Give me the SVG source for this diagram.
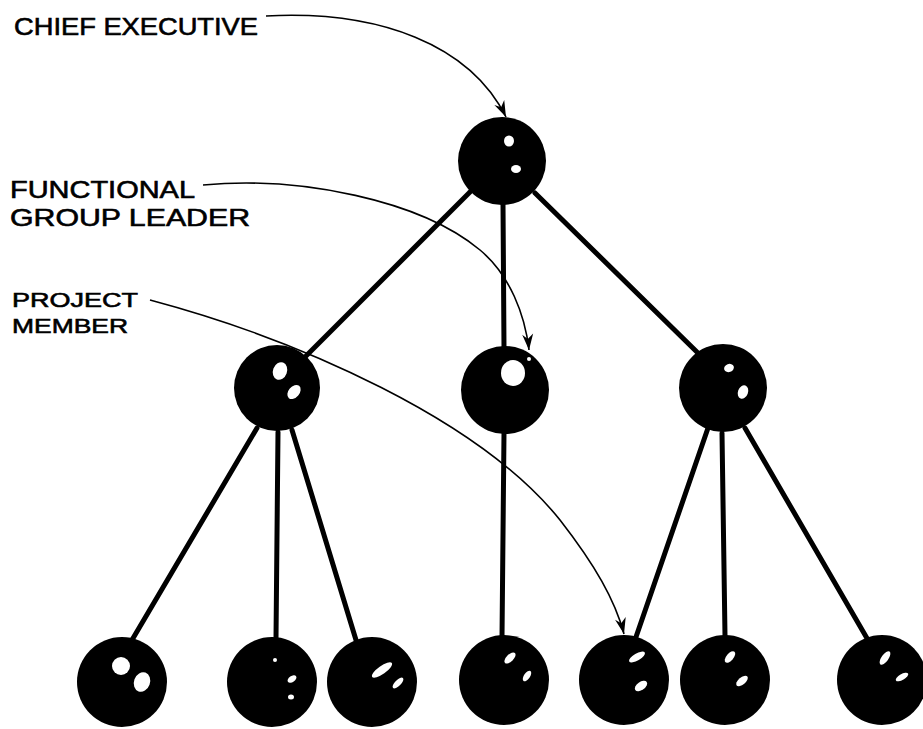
<svg xmlns="http://www.w3.org/2000/svg" width="923" height="729" viewBox="0 0 923 729">
  <style>
    .ball { fill: #000; }
    .hl { fill: #fff; }
    .link { stroke: #000; stroke-width: 5; stroke-linecap: round; fill: none; }
    .leader { stroke: #000; stroke-width: 1.6; fill: none; }
    .label { font-family: "Liberation Sans", "DejaVu Sans", sans-serif; font-size: 24px; fill: #000; stroke: #000; stroke-width: 0.6; }
    .label.small { font-size: 21px; }
  </style>
  <defs>
    <marker id="barb" viewBox="-18 -7 20 14" refX="0" refY="0" markerWidth="20" markerHeight="14" orient="auto" markerUnits="userSpaceOnUse">
      <path d="M0,0 L-16,-6 L-11,0 L-16,5 Z" fill="#000"/>
    </marker>
  </defs>

  <rect width="923" height="729" fill="#fff"/>

  <!-- structure lines between the levels -->
  <g id="connectors">
    <line class="link" x1="470" y1="192" x2="305" y2="357"/>
    <line class="link" x1="503" y1="204" x2="504" y2="347"/>
    <line class="link" x1="535" y1="193" x2="700" y2="355"/>
    <line class="link" x1="257" y1="428" x2="132" y2="640"/>
    <line class="link" x1="278" y1="432" x2="276" y2="638"/>
    <line class="link" x1="292" y1="430" x2="356" y2="640"/>
    <line class="link" x1="504" y1="433" x2="502" y2="637"/>
    <line class="link" x1="708" y1="428" x2="636" y2="637"/>
    <line class="link" x1="722" y1="433" x2="725" y2="636"/>
    <line class="link" x1="745" y1="428" x2="868" y2="640"/>
  </g>

  <!-- top: chief executive -->
  <g id="node-chief">
    <circle class="ball" cx="502" cy="161" r="44"/>
    <ellipse class="hl" cx="509" cy="141" rx="5" ry="5.5"/>
    <ellipse class="hl" cx="516" cy="169" rx="5" ry="4"/>
  </g>

  <!-- middle row: functional group leaders -->
  <g id="node-group-left">
    <circle class="ball" cx="277" cy="388" r="43"/>
    <ellipse class="hl" cx="280" cy="371" rx="7" ry="9" transform="rotate(20 280 371)"/>
    <ellipse class="hl" cx="294" cy="392" rx="5.5" ry="8" transform="rotate(40 294 392)"/>
  </g>
  <g id="node-group-centre">
    <circle class="ball" cx="505" cy="390" r="44"/>
    <ellipse class="hl" cx="513" cy="373" rx="12" ry="13"/>
    <circle class="hl" cx="529" cy="359" r="2"/>
  </g>
  <g id="node-group-right">
    <circle class="ball" cx="723" cy="388" r="44"/>
    <ellipse class="hl" cx="729" cy="368" rx="5" ry="4" transform="rotate(-20 729 368)"/>
    <ellipse class="hl" cx="743" cy="392" rx="5" ry="7" transform="rotate(20 743 392)"/>
  </g>

  <!-- bottom row: project members -->
  <g id="node-member-1">
    <circle class="ball" cx="122" cy="682" r="45"/>
    <ellipse class="hl" cx="121" cy="666" rx="9" ry="9"/>
    <ellipse class="hl" cx="142" cy="682" rx="8" ry="10" transform="rotate(20 142 682)"/>
  </g>
  <g id="node-member-2">
    <circle class="ball" cx="272" cy="682" r="45"/>
    <circle class="hl" cx="275" cy="660" r="2"/>
    <ellipse class="hl" cx="292" cy="679" rx="5" ry="3" transform="rotate(-35 292 679)"/>
    <ellipse class="hl" cx="291" cy="697" rx="3" ry="2.5"/>
  </g>
  <g id="node-member-3">
    <circle class="ball" cx="372" cy="682" r="45"/>
    <ellipse class="hl" cx="382" cy="670" rx="12" ry="4" transform="rotate(-35 382 670)"/>
    <ellipse class="hl" cx="398" cy="683" rx="7" ry="3" transform="rotate(-45 398 683)"/>
  </g>
  <g id="node-member-4">
    <circle class="ball" cx="504" cy="680" r="45"/>
    <ellipse class="hl" cx="510" cy="658" rx="7" ry="3.5" transform="rotate(-45 510 658)"/>
    <ellipse class="hl" cx="527" cy="676" rx="6" ry="3" transform="rotate(-55 527 676)"/>
  </g>
  <g id="node-member-5">
    <circle class="ball" cx="624" cy="680" r="45"/>
    <ellipse class="hl" cx="637" cy="657" rx="9" ry="3.5" transform="rotate(-30 637 657)"/>
    <ellipse class="hl" cx="641" cy="686" rx="7" ry="4" transform="rotate(-35 641 686)"/>
  </g>
  <g id="node-member-6">
    <circle class="ball" cx="725" cy="680" r="45"/>
    <ellipse class="hl" cx="730" cy="657" rx="7" ry="3.5" transform="rotate(-50 730 657)"/>
    <ellipse class="hl" cx="742" cy="681" rx="7" ry="3.5" transform="rotate(-40 742 681)"/>
  </g>
  <g id="node-member-7">
    <circle class="ball" cx="882" cy="680" r="45"/>
    <ellipse class="hl" cx="885" cy="658" rx="8" ry="3.5" transform="rotate(-55 885 658)"/>
    <ellipse class="hl" cx="902" cy="677" rx="7" ry="3" transform="rotate(-30 902 677)"/>
  </g>

  <!-- captions and their pointers -->
  <g id="labels">
    <text class="label" x="14" y="35" textLength="244" lengthAdjust="spacingAndGlyphs">CHIEF EXECUTIVE</text>
    <text class="label" x="10" y="198" textLength="185" lengthAdjust="spacingAndGlyphs">FUNCTIONAL</text>
    <text class="label" x="10" y="226" textLength="240" lengthAdjust="spacingAndGlyphs">GROUP LEADER</text>
    <text class="label small" x="12" y="307" textLength="126" lengthAdjust="spacingAndGlyphs">PROJECT</text>
    <text class="label small" x="12" y="333" textLength="116" lengthAdjust="spacingAndGlyphs">MEMBER</text>
  </g>
  <g id="pointers">
    <path class="leader" d="M266,16 C380,10 470,45 506,117" marker-end="url(#barb)"/>
    <path class="leader" d="M203,185 C300,176 420,200 480,250 C510,275 525,315 529,350" marker-end="url(#barb)"/>
    <path class="leader" d="M150,300 C300,340 480,420 560,520 C595,565 615,600 624,634" marker-end="url(#barb)"/>
  </g>
</svg>
